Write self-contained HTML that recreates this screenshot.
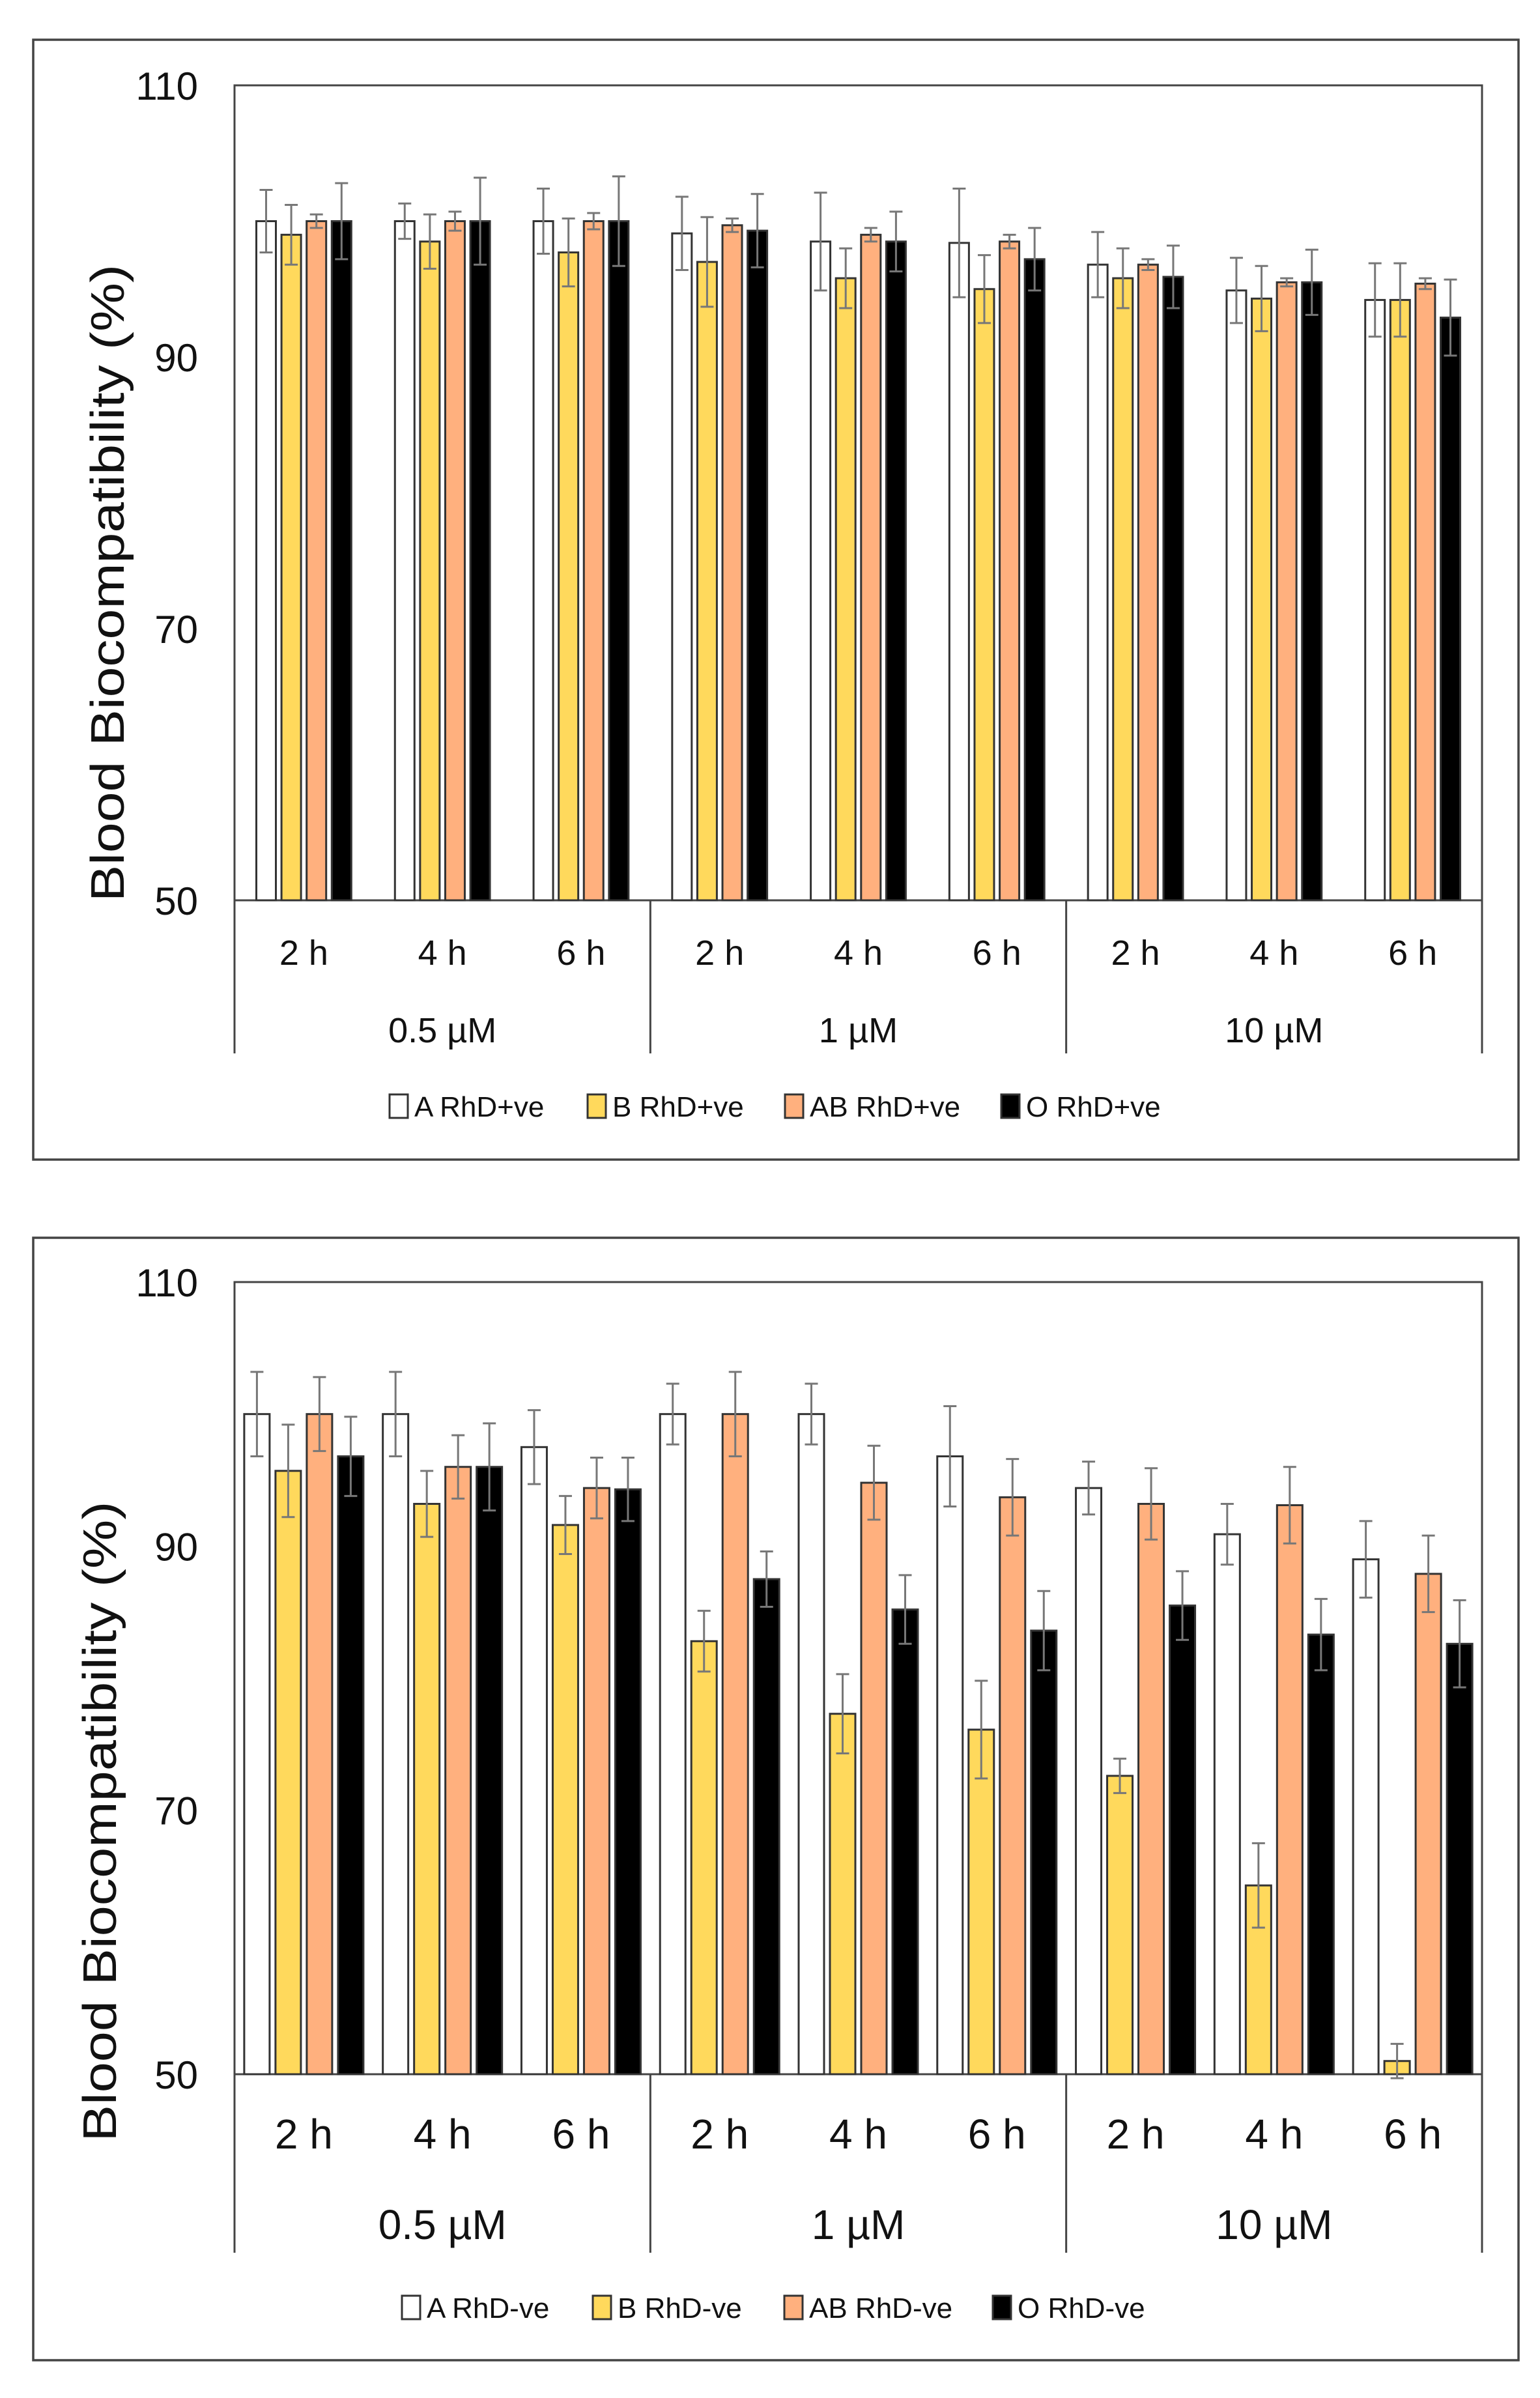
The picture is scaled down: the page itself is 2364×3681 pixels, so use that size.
<!DOCTYPE html>
<html><head><meta charset="utf-8">
<style>
html,body{margin:0;padding:0;background:#fff;}
svg{display:block;}
text{font-family:"Liberation Sans","DejaVu Sans",sans-serif;fill:#111;}
</style></head>
<body>
<svg id="fig" width="2364" height="3681" viewBox="0 0 2364 3681" xmlns="http://www.w3.org/2000/svg"></svg>
<script>
const hours = ["2 h","4 h","6 h"];
const concs = ["0.5 µM","1 µM","10 µM"];
const yTicks = [50,70,90,110];
const seriesColors = ["#ffffff","#FFD95C","#FFB07E","#000000"];
const legend1 = ["A RhD+ve","B RhD+ve","AB RhD+ve","O RhD+ve"];
const legend2 = ["A RhD-ve","B RhD-ve","AB RhD-ve","O RhD-ve"];
// chart 1 values (9 categories each)
const c1A  = [100,100,100,99.1,98.5,98.4,96.8,94.9,94.2];
const c1B  = [99,98.5,97.7,97,95.8,95,95.8,94.3,94.2];
const c1AB = [100,100,100,99.7,99,98.5,96.8,95.5,95.4];
const c1O  = [100,100,100,99.3,98.5,97.2,95.9,95.5,92.9];
const e1A  = [2.3,1.3,2.4,2.7,3.6,4,2.4,2.4,2.7];
const e1B  = [2.2,2,2.5,3.3,2.2,2.5,2.2,2.4,2.7];
const e1AB = [0.5,0.7,0.6,0.5,0.5,0.5,0.4,0.3,0.4];
const e1O  = [2.8,3.2,3.3,2.7,2.2,2.3,2.3,2.4,2.8];
// chart 2 values
const c2A  = [100,100,97.5,100,100,96.8,94.4,90.9,89];
const c2B  = [95.7,93.2,91.6,82.8,77.3,76.1,72.6,64.3,51];
const c2AB = [100,96,94.4,100,94.8,93.7,93.2,93.1,87.9];
const c2O  = [96.8,96,94.3,87.5,85.2,83.6,85.5,83.3,82.6];
const e2A  = [3.2,3.2,2.8,2.3,2.3,3.8,2,2.3,2.9];
const e2B  = [3.5,2.5,2.2,2.3,3,3.7,1.3,3.2,1.3];
const e2AB = [2.8,2.4,2.3,3.2,2.8,2.9,2.7,2.9,2.9];
const e2O  = [3,3.3,2.4,2.1,2.6,3,2.6,2.7,3.3];

const NS="http://www.w3.org/2000/svg";
const svg=document.getElementById('fig');
function mk(tag,attrs,parent,txt){const e=document.createElementNS(NS,tag);for(const k in attrs)e.setAttribute(k,attrs[k]);if(txt!==undefined)e.textContent=txt;(parent||svg).appendChild(e);return e;}

function drawChart(cfg){
  const g=mk('g',{});
  
  
  const box=mk('rect',{x:51,y:cfg.boxTop,width:2280,height:cfg.boxB-cfg.boxTop,fill:'none',stroke:'#444','stroke-width':3.5},g);
  
  
  const L=360,R=2275,T=cfg.top,B=cfg.bottom;
  const y=v=>B-(v-50)/60*(B-T);
  const plot=mk('rect',{x:L,y:T,width:R-L,height:B-T,fill:'none',stroke:'#444','stroke-width':3},g);
  
  
  yTicks.forEach(t=>{
    const tx=mk('text',{x:304,y:y(t)+22,'text-anchor':'end','font-size':60},g,String(t));
    
    
  });
  const yt=mk('text',{x:0,y:0,'text-anchor':'middle','font-size':cfg.titleFs,textLength:cfg.titleLen,lengthAdjust:'spacingAndGlyphs',transform:`translate(${cfg.titleX},${cfg.titleY}) rotate(-90)`},g,'Blood Biocompatibility (%)');
  
  
  const gw=(R-L)/9, bw=cfg.bw, step=cfg.step;
  const vals=[cfg.A,cfg.B,cfg.AB,cfg.O], errs=[cfg.eA,cfg.eB,cfg.eAB,cfg.eO];
  for(let c=0;c<9;c++){
    const cx=L+gw*(c+0.5);
    for(let s=0;s<4;s++){
      const x=cx-2*step+s*step+(step-bw)/2;
      const v=vals[s][c], e=errs[s][c];
      const r=mk('rect',{x:x,y:y(v),width:bw,height:B-y(v),fill:seriesColors[s],stroke:'#333','stroke-width':3},g);
      
      
      const mx=x+bw/2;
      const eb=mk('path',{d:`M${mx},${y(v+e)}V${y(v-e)}M${mx-10},${y(v+e)}H${mx+10}M${mx-10},${y(v-e)}H${mx+10}`,stroke:'#777','stroke-width':3,fill:'none'},g);
      
      
    }
    const hl=mk('text',{x:cx,y:cfg.hourY,'text-anchor':'middle','font-size':cfg.hourFs},g,hours[c%3]);
    
    
  }
  for(let k=0;k<=3;k++){
    const dx=L+gw*3*k;
    const d=mk('line',{x1:dx,y1:B,x2:dx,y2:cfg.divB,stroke:'#444','stroke-width':3},g);
    
    
  }
  concs.forEach((cn,k)=>{
    const t=mk('text',{x:L+gw*(3*k+1.5),y:cfg.concY,'text-anchor':'middle','font-size':cfg.concFs},g,cn);
    
    
  });
  cfg.legendX.forEach((lx,s)=>{
    const le=mk('g',{},g);
    
    
    mk('rect',{x:lx,y:cfg.legY-34,width:28,height:36,fill:seriesColors[s],stroke:'#333','stroke-width':3},le);
    mk('text',{x:lx+38,y:cfg.legY,'font-size':44},le,cfg.legend[s]);
  });
}
drawChart({name:'chart-rhd-positive',boxTop:61,boxB:1780,top:131,bottom:1382,titleX:190,titleY:895,titleFs:72,titleLen:978,
  bw:30,step:38.6,hourY:1481,hourFs:54,concY:1600,concFs:54,divB:1617,legY:1714,
  legend:legend1,legendX:[598,902,1205,1537],A:c1A,B:c1B,AB:c1AB,O:c1O,eA:e1A,eB:e1B,eAB:e1AB,eO:e1O});
drawChart({name:'chart-rhd-negative',boxTop:1900,boxB:3623,top:1968,bottom:3184,titleX:178,titleY:2796,titleFs:72,titleLen:983,
  bw:39,step:48,hourY:3298,hourFs:64,concY:3437,concFs:64,divB:3458,legY:3558,
  legend:legend2,legendX:[617,910,1204,1524],A:c2A,B:c2B,AB:c2AB,O:c2O,eA:e2A,eB:e2B,eAB:e2AB,eO:e2O});
</script>
</body></html>
